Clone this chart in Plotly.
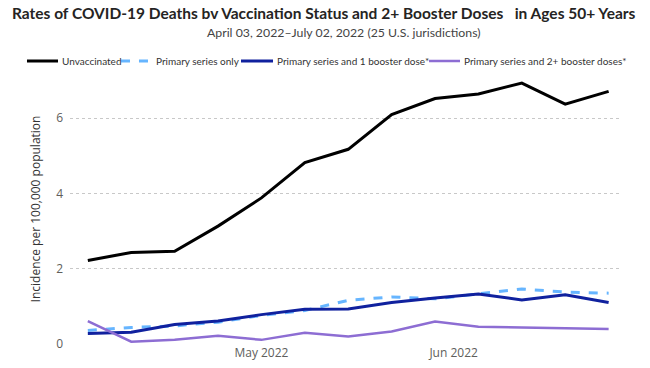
import plotly.graph_objects as go

dates = ["2022-04-03", "2022-04-10", "2022-04-17", "2022-04-24", "2022-05-01",
         "2022-05-08", "2022-05-15", "2022-05-22", "2022-05-29", "2022-06-05",
         "2022-06-12", "2022-06-19", "2022-06-26"]
unvaccinated = [2.22, 2.43, 2.46, 3.13, 3.88, 4.82, 5.17, 6.09, 6.52, 6.64, 6.93, 6.37, 6.71]
primary_only = [0.36, 0.44, 0.48, 0.58, 0.76, 0.89, 1.16, 1.25, 1.20, 1.33, 1.46, 1.38, 1.35]
one_booster = [0.28, 0.31, 0.52, 0.61, 0.78, 0.92, 0.93, 1.10, 1.22, 1.33, 1.17, 1.31, 1.10]
two_booster = [0.61, 0.06, 0.11, 0.22, 0.11, 0.30, 0.20, 0.33, 0.60, 0.46, 0.44, 0.42, 0.40]
series_names = ["Unvaccinated", "Primary series only",
                "Primary series and 1 booster dose*", "Primary series and 2+ booster doses*"]

FONT = "Open Sans, sans-serif"
TFONT = "Lato, Open Sans, sans-serif"

styles = [dict(color="#000000", width=3),
          dict(color="#66B5FF", width=3, dash="dash"),
          dict(color="#10219E", width=3),
          dict(color="#8D6DD3", width=2.5)]

fig = go.Figure()
for name, vals, st in zip(series_names, [unvaccinated, primary_only, one_booster, two_booster], styles):
    fig.add_trace(go.Scatter(x=dates, y=vals, name=name, mode="lines", line=st, showlegend=False))

# hand-placed single-row legend (paper coordinates of each entry's line start/end and text start)
legend_pos = [(-0.0782, -0.0218, -0.019), (0.0927, 0.1491, 0.1535),
              (0.3109, 0.3691, 0.3735), (0.6527, 0.7091, 0.7135)]
LEG_Y = 1.0481
shapes = []
annotations = [
    dict(text="<b>Rates of COVID-19 Deaths bv Vaccination Status and 2+ Booster Doses   in Ages 50+ Years</b>",
         xref="paper", yref="paper", x=0.4618, xanchor="center",
         y=1.2259, yanchor="middle", showarrow=False,
         font=dict(family=TFONT, size=15.5, color="#252423")),
    dict(text="April 03, 2022–July 02, 2022 (25 U.S. jurisdictions)",
         xref="paper", yref="paper", x=0.498, xanchor="center",
         y=1.1537, yanchor="middle", showarrow=False,
         font=dict(family=TFONT, size=12.3, color="#444444")),
]
for name, st, (x0, x1, xt) in zip(series_names, styles, legend_pos):
    shapes.append(dict(type="line", xref="paper", yref="paper", x0=x0, x1=x1, y0=LEG_Y, y1=LEG_Y,
                       line=dict(color=st["color"], width=st["width"], dash=st.get("dash", "solid"))))
    annotations.append(dict(text=name, xref="paper", yref="paper", x=xt, xanchor="left",
                            y=LEG_Y, yanchor="middle", showarrow=False,
                            font=dict(family=TFONT, size=10, color="#333333")))

fig.update_layout(
    width=650, height=368,
    margin=dict(l=70, r=30, t=74, b=24, autoexpand=False),
    paper_bgcolor="white", plot_bgcolor="white",
    font=dict(family=FONT, color="#333333"),
    showlegend=False,
    shapes=shapes,
    annotations=annotations,
)

fig.update_xaxes(range=["2022-03-31 03:00", "2022-06-27 20:00"], showgrid=False, zeroline=False,
                 showline=False, tickvals=["2022-05-01", "2022-06-01"], ticktext=["May 2022", "Jun 2022"],
                 tickfont=dict(size=12, color="#605E5C"), ticks="")
fig.update_yaxes(range=[0, 7.17], showgrid=True, gridcolor="#C8C8C8", griddash="dot", gridwidth=1,
                 zeroline=False, showline=False, tickvals=[0, 2, 4, 6],
                 tickfont=dict(size=12, color="#605E5C"), ticks="", ticklabelstandoff=6,
                 title=dict(text="Incidence per 100,000 population", font=dict(size=12, color="#333333"),
                            standoff=12))

# remove the default 8px page margin so the 650x368 figure fills the window exactly
fig.write_html("out.html", config={"displayModeBar": False},
               post_script="document.body.style.margin='0';")
